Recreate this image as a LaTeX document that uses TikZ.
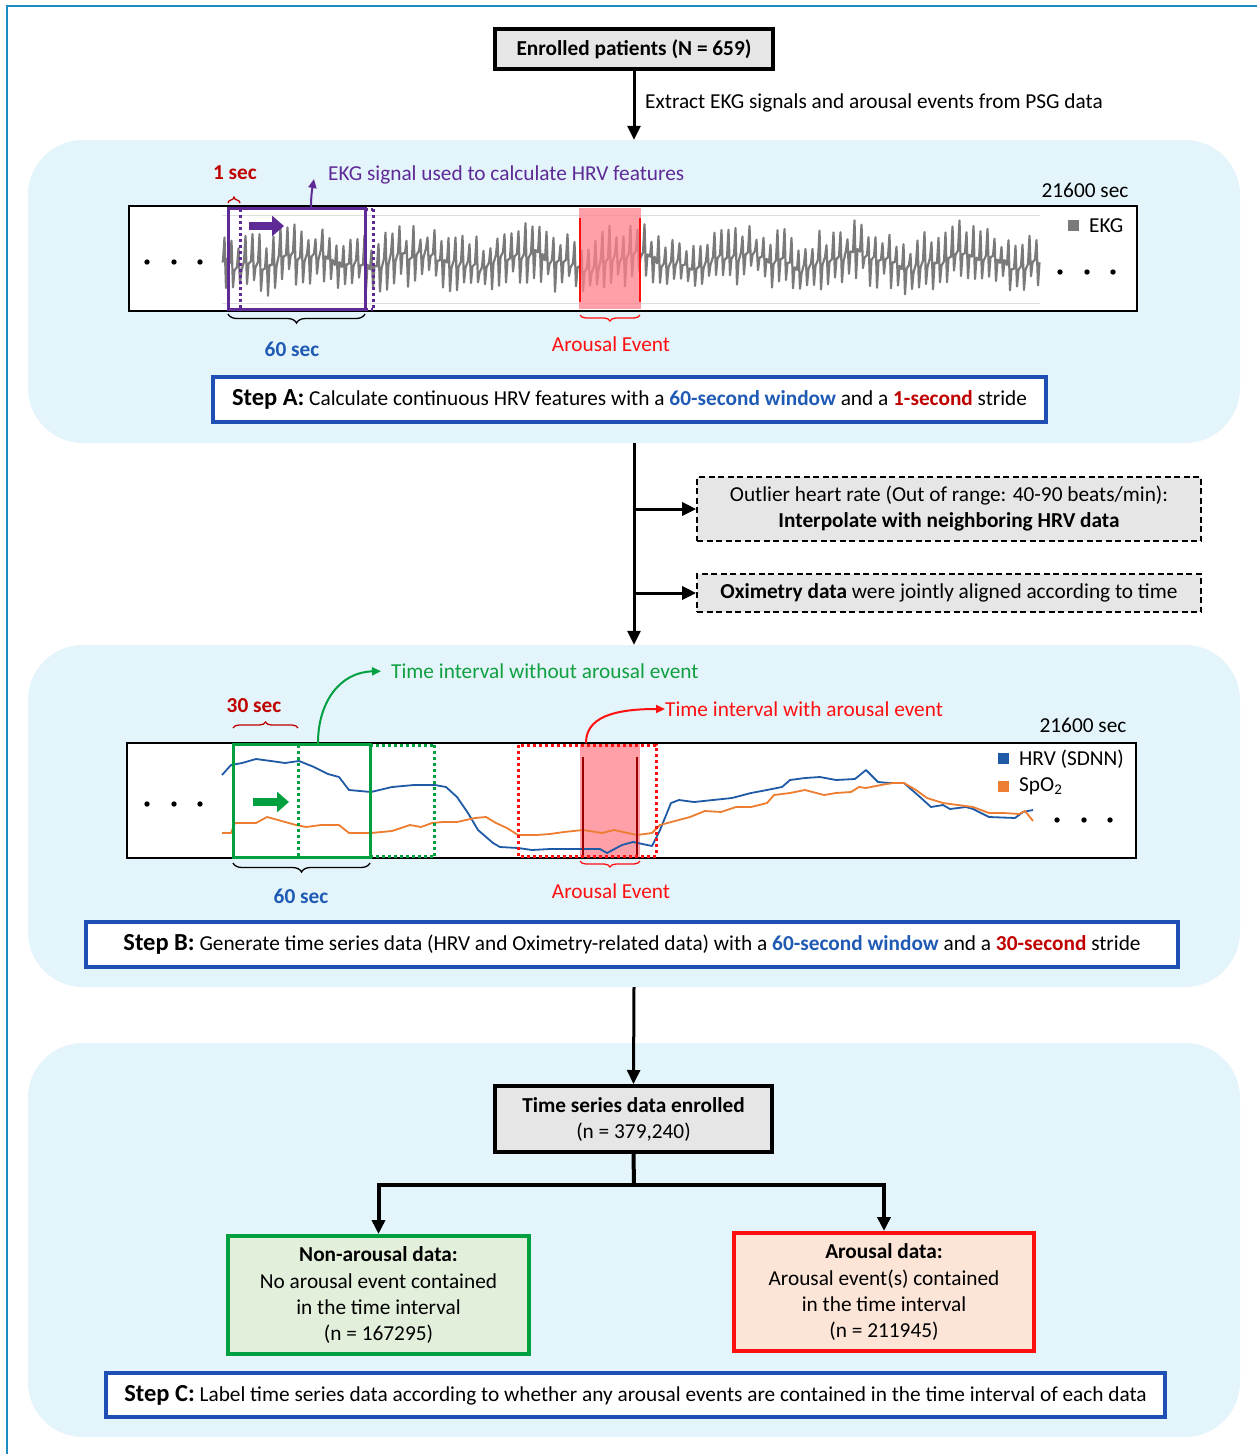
\documentclass[tikz,border=0pt]{standalone}
\usepackage{fontspec}
\setmainfont{Carlito}
\usetikzlibrary{arrows.meta,decorations.pathreplacing,calc}
\definecolor{panelc}{HTML}{E3F4FB}
\definecolor{outerblue}{HTML}{1E8BC3}
\definecolor{stepblue}{HTML}{1F4EB4}
\definecolor{tblue}{HTML}{1F5BB5}
\definecolor{dred}{HTML}{C00000}
\definecolor{bred}{HTML}{FF1010}
\definecolor{purp}{HTML}{5E2A96}
\definecolor{gr}{HTML}{00A040}
\definecolor{grtext}{HTML}{10A040}
\definecolor{boxgray}{HTML}{E6E6E6}
\definecolor{nafill}{HTML}{E2EFDA}
\definecolor{afill}{HTML}{FCE4D6}
\definecolor{ekggray}{HTML}{7A7A7A}
\definecolor{arpink}{HTML}{FF7F8A}
\definecolor{hrvblue}{HTML}{1F5AA6}
\definecolor{spoor}{HTML}{ED7D31}
\newcommand{\nfs}{\fontsize{21.3}{26}\selectfont}
\newcommand{\bfs}{\fontsize{24.5}{28}\selectfont\bfseries}
\begin{document}
\begin{tikzpicture}[x=1pt,y=-1pt,
  panel/.style={fill=panelc,rounded corners=55pt,inner sep=0pt},
  blackbox/.style={draw=black,line width=4pt,fill=boxgray,align=center,inner sep=0pt,font=\nfs},
  dashbox/.style={draw=black,line width=1.6pt,dash pattern={on 6pt off 3.5pt},fill=boxgray,align=center,inner sep=0pt,font=\nfs},
  stepbox/.style={draw=stepblue,line width=4pt,fill=white,inner sep=0pt,font=\nfs},
  plotbox/.style={draw=black,line width=1.8pt,fill=white,inner sep=0pt},
  arr/.style={line width=3pt,-{Triangle[length=14pt,width=13pt]}},
  txt/.style={font=\nfs,inner sep=0pt},
  dotl/.style={line width=3pt,dash pattern={on 3pt off 3pt}},
  ubrace/.style={decorate,decoration={brace,amplitude=9pt},line width=1.3pt},
  sbrace/.style={decorate,decoration={brace,amplitude=6pt},line width=1.3pt},
  blockarr/.style={line width=8pt,-{Triangle[length=12pt,width=20pt]}},
  curvarr/.style={line width=2pt,-{Triangle[length=9pt,width=8pt]}}
]
\useasboundingbox (0,0) rectangle (1257,1454);
\fill[white] (0,0) rectangle (1257,1454);
\draw[outerblue,line width=2.5pt] (7,1454) -- (7,6) -- (1257,6);

% panels
\node[panel,minimum width=1212pt,minimum height=303pt] (pA) at (634,291.5) {};
\node[panel,minimum width=1212pt,minimum height=342pt] (pB) at (634,816) {};
\node[panel,minimum width=1212pt,minimum height=394pt] (pC) at (634,1240) {};

% top box
\node[blackbox,font=\nfs\bfseries,minimum width=278pt,minimum height=40pt] (enr) at (634,49) {Enrolled patients (N = 659)};
\draw[arr] (enr.south) -- (pA.north);
\node[txt,anchor=west] (extr) at (645,103) {Extract EKG signals and arousal events from PSG data};

% ===== Panel A =====
\node[plotbox,minimum width=1008pt,minimum height=105pt] (ekg) at (633,258.5) {};
\draw[gray!25,line width=1pt] (222,215) -- (1040,215) (222,303) -- (1040,303);
\pgfmathsetseed{7}
\draw[ekggray,line width=2.2pt,line join=round] (222,262)
  \foreach \i in {0,...,116} {
    -- ({222+7*\i+1},{262+6*sin(\i*23)+3*sin(\i*71)-6*rnd})
    -- ({222+7*\i+2.5},{262+6*sin(\i*23)+3*sin(\i*71)-16-18*rnd})
    -- ({222+7*\i+4},{262+6*sin(\i*23)+3*sin(\i*71)+12+16*rnd})
    -- ({222+7*\i+5.5},{262+6*sin(\i*23)+3*sin(\i*71)+4-8*rnd})
  };
\fill (147,262) circle (2.7pt) (174,262) circle (2.7pt) (200,262) circle (2.7pt);
\fill (1060,272) circle (2.7pt) (1087,272) circle (2.7pt) (1113,272) circle (2.7pt);
% arousal
\fill[arpink,opacity=0.75] (579,208) rectangle (641,309);
\draw[bred,line width=2pt] (580,218) -- (580,302) (640,218) -- (640,302);
% windows
\draw[purp,line width=3pt] (228,208) rectangle (365,309);
\draw[purp,dotl] (240,209) -- (240,309) (373,209) -- (373,309);
\draw[purp,dotl] (365,209) -- (373,209) (365,309) -- (373,309);
\draw[purp,blockarr] (249,226) -- (284,226);
% labels
\node[txt,font=\nfs\bfseries,text=dred] (onesec) at (235,173) {1 sec};
\draw[dred,sbrace] (228,203) -- (240,203);
\coordinate (pq) at (311,208);
\draw[purp,curvarr] (pq) .. controls (311,196) and (312,190) .. (314,179);
\node[txt,text=purp,anchor=west] (ekgl) at (328,175) {EKG signal used to calculate HRV features};
\node[txt,anchor=center] (t216a) at (1085,190) {21600 sec};
\fill[ekggray] (1068,220) rectangle (1079,231);
\node[txt,anchor=west] (ekgleg) at (1089,226) {EKG};
\draw[black,ubrace] (365,314) -- (228,314);
\node[txt,font=\nfs\bfseries,text=tblue] (sixa) at (292,349) {60 sec};
\draw[bred,sbrace] (640,315) -- (580,315);
\node[txt,text=bred] (aea) at (611,344) {Arousal Event};
\node[stepbox,minimum width=833pt,minimum height=45pt] (stA) at (629.5,399.5)
  {{\bfs Step A:} Calculate continuous HRV features with a \textcolor{tblue}{\bfseries 60-second window} and a \textcolor{dred}{\bfseries 1-second} stride};

% ===== between A and B =====
\draw[arr] (pA.south) -- (pB.north);
\node[dashbox,minimum width=504pt,minimum height=64pt] (out) at (949,509)
  {Outlier heart rate (Out of range: 40-90 beats/min):\\\textbf{Interpolate with neighboring HRV data}};
\node[dashbox,minimum width=504pt,minimum height=38pt] (oxi) at (949,593)
  {\textbf{Oximetry data} were jointly aligned according to time};
\draw[arr] (out.west -| pA.south) -- (out.west);
\draw[arr] (oxi.west -| pA.south) -- (oxi.west);

% ===== Panel B =====
\node[plotbox,minimum width=1009pt,minimum height=115pt] (ts) at (631.5,800.5) {};
\fill (147,804) circle (2.7pt) (174,804) circle (2.7pt) (200,804) circle (2.7pt);
\fill (1057,820) circle (2.7pt) (1084,820) circle (2.7pt) (1110,820) circle (2.7pt);
\fill[arpink,opacity=0.75] (580,744) rectangle (640,857);
\draw[hrvblue,line width=1.8pt,line join=round] (222,775) -- (231,765) -- (242,763) -- (256,759) -- (271,761) -- (285,763) -- (299,761) -- (314,767) -- (328,774) -- (339,777) -- (349,790) -- (371,792) -- (392,787) -- (414,785) -- (435,785) -- (446,787) -- (457,797) -- (468,813) -- (478,830) -- (493,843) -- (500,847) -- (518,848) -- (532,850) -- (550,849) -- (568,849) -- (582,849) -- (600,849) -- (607,853) -- (622,845) -- (633,842) -- (652,846) -- (660,830) -- (671,803) -- (679,800) -- (694,802) -- (713,800) -- (732,798) -- (751,793) -- (767,790) -- (782,787) -- (790,780) -- (805,778) -- (820,777) -- (836,780) -- (855,779) -- (866,770) -- (878,782) -- (889,783) -- (904,783) -- (920,797) -- (931,807) -- (943,805) -- (950,809) -- (966,807) -- (973,809) -- (989,817) -- (1015,818) -- (1023,812) -- (1033,810);
\draw[spoor,line width=1.8pt,line join=round] (222,833) -- (231,833) -- (235,823) -- (256,823) -- (267,817) -- (278,820) -- (296,825) -- (306,827) -- (321,825) -- (339,825) -- (349,833) -- (371,833) -- (392,831) -- (410,825) -- (421,827) -- (432,823) -- (443,822) -- (457,822) -- (475,818) -- (486,817) -- (496,823) -- (507,828) -- (518,835) -- (536,835) -- (550,834) -- (564,832) -- (583,830) -- (602,833) -- (614,830) -- (637,835) -- (652,833) -- (660,825) -- (675,821) -- (690,817) -- (705,811) -- (721,812) -- (736,807) -- (751,807) -- (767,803) -- (774,795) -- (790,793) -- (805,790) -- (824,795) -- (836,793) -- (851,792) -- (859,787) -- (866,788) -- (881,785) -- (893,783) -- (904,783) -- (916,790) -- (927,798) -- (943,803) -- (958,805) -- (973,807) -- (989,813) -- (1004,813) -- (1019,814) -- (1025,811) -- (1033,821);
\draw[red!60!black,line width=1.4pt] (583,757) -- (583,857) (637,757) -- (637,857);
\draw[gr,line width=3pt] (233,744) rectangle (370,857);
\draw[gr,dotl] (298,745) -- (298,856) (434,745) -- (434,856) (370,745) -- (434,745) (370,856) -- (434,856);
\draw[bred,dotl] (518,745) rectangle (656,856);
\draw[gr,blockarr] (253,802) -- (289,802);
\node[txt,font=\nfs\bfseries,text=dred] (thirty) at (254,706) {30 sec};
\draw[dred,sbrace] (233,728) -- (298,728);
\coordinate (gq) at (318,743);
\node[txt,text=grtext,anchor=west] (without) at (391,671) {Time interval without arousal event};
\draw[gr,curvarr,shorten >=10pt] (gq) .. controls (318,702) and (340,672) .. (without.west);
\coordinate (rq) at (586,743);
\node[txt,text=bred,anchor=west] (withl) at (665,709) {Time interval with arousal event};
\draw[bred,curvarr] (rq) .. controls (586,718) and (612,709) .. (withl.west);
\node[txt] (t216b) at (1083,725) {21600 sec};
\fill[hrvblue] (998,753) rectangle (1009,764);
\node[txt,anchor=west] (hrvleg) at (1019,759) {HRV (SDNN)};
\fill[spoor] (998,781) rectangle (1009,792);
\node[txt,anchor=west] (spoleg) at (1019,786) {SpO\textsubscript{2}};
\draw[black,ubrace] (370,863) -- (233,863);
\node[txt,font=\nfs\bfseries,text=tblue] (sixb) at (301,896) {60 sec};
\draw[bred,sbrace] (640,861) -- (580,861);
\node[txt,text=bred] (aeb) at (611,891) {Arousal Event};
\node[stepbox,minimum width=1092pt,minimum height=45pt] (stB) at (632,944.5)
  {{\bfs Step B:} Generate time series data (HRV and Oximetry-related data) with a \textcolor{tblue}{\bfseries 60-second window} and a \textcolor{dred}{\bfseries 30-second} stride};

% ===== Panel C =====
\node[blackbox,minimum width=277pt,minimum height=66pt] (tse) at (633.5,1119)
  {\textbf{Time series data enrolled}\\(n = 379,240)};
\draw[arr] (pB.south) -- (tse.north);
\node[draw=gr,line width=4pt,fill=nafill,align=center,inner sep=0pt,font=\nfs,minimum width=301pt,minimum height=118pt] (na) at (378.5,1295)
  {\textbf{Non-arousal data:}\\[1pt]No arousal event contained\\in the time interval\\(n = 167295)};
\node[draw=bred,line width=4pt,fill=afill,align=center,inner sep=0pt,font=\nfs,minimum width=300pt,minimum height=118pt] (ar) at (884,1292)
  {\textbf{Arousal data:}\\[1pt]Arousal event(s) contained\\in the time interval\\(n = 211945)};
\coordinate (split) at (634,1185);
\draw[line width=4pt] (tse.south) -- (split);
\draw[line width=4pt,-{Triangle[length=14pt,width=13pt]}] (split) -| (na.north);
\draw[line width=4pt,-{Triangle[length=14pt,width=13pt]}] (split) -| (ar.north);
\node[stepbox,minimum width=1059pt,minimum height=44pt] (stC) at (635.5,1395)
  {{\bfs Step C:} Label time series data according to whether any arousal events are contained in the time interval of each data};
\end{tikzpicture}
\end{document}
